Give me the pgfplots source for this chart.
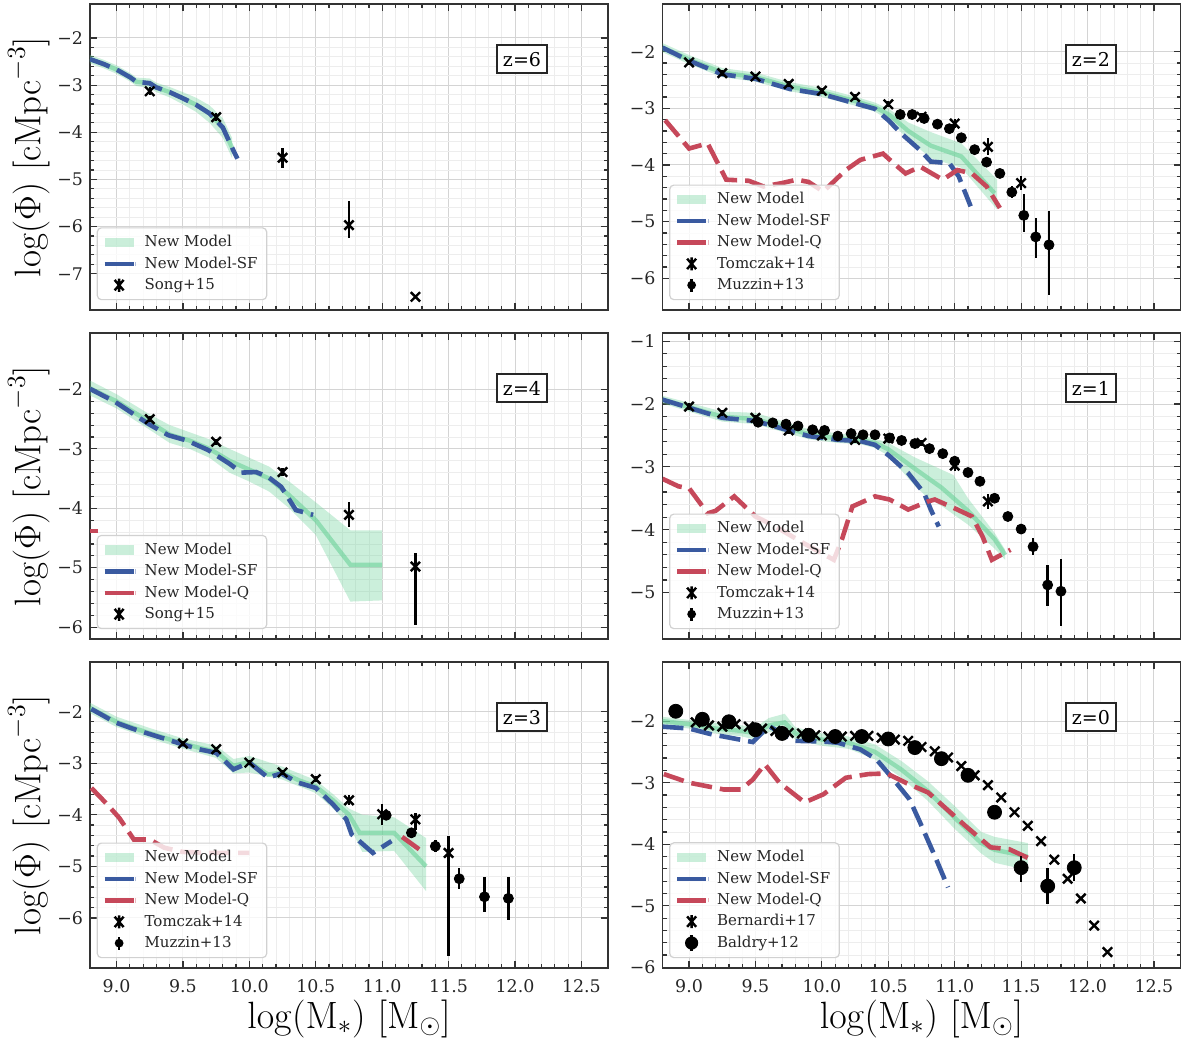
\RequirePackage{fix-cm}
\documentclass[border=0pt]{standalone}
\usepackage[no-math]{fontspec}
\setmainfont{DejaVu Serif}
\usepackage{pgfplots}
\pgfplotsset{compat=1.18}
\definecolor{mint}{RGB}{110,210,155}
\definecolor{sfblue}{RGB}{58,90,160}
\definecolor{qred}{RGB}{198,72,90}

\tikzset{zbox/.style={draw=black!85, line width=0.9pt, fill=white, inner xsep=3pt, inner ysep=3.5pt, font=\fontsize{9.5}{11}\selectfont}}
\pgfplotsset{
  panel/.style={
    scale only axis, width=259pt, height=153pt,
    xmin=8.8, xmax=12.7,
    xtick={9,9.5,10,10.5,11,11.5,12,12.5},
    xticklabels={},
    minor x tick num=4, minor y tick num=4,
    grid=both,
    major grid style={line width=0.5pt, draw=black!17},
    minor grid style={line width=0.4pt, draw=black!7},
    tick align=inside,
    major tick length=3.5pt, minor tick length=2pt,
    every tick/.style={black!80, line width=0.6pt},
    axis line style={black!80, line width=0.9pt},
    tick label style={font=\fontsize{8.7}{10}\selectfont, text=black!85},
    xticklabel style={yshift=-2pt},
    legend cell align=left,
    legend style={at={(0.013,0.032)}, anchor=south west,
      font=\fontsize{7.5}{9}\selectfont, text=black!85, draw=black!18, line width=0.6pt,
      fill=white, fill opacity=0.8, text opacity=1, rounded corners=2pt,
      nodes={inner ysep=1.2pt}, row sep=1.1pt, inner xsep=2.5pt, inner ysep=2.5pt},
  },
  leftcol/.style={ylabel={$\mathrm{log}(\Phi)\ [\mathrm{cMpc}^{-3}]$},
    ylabel style={at={(rel axis cs:-0.118,0.5)}, anchor=center, font=\fontsize{18.5}{20}\selectfont}},
  bottomrow/.style={xticklabels={9.0,9.5,10.0,10.5,11.0,11.5,12.0,12.5},
    xlabel={$\mathrm{log}(\mathrm{M}_*)\ [\mathrm{M}_\odot]$},
    xlabel style={at={(rel axis cs:0.5,-0.165)}, anchor=center, font=\fontsize{19}{21}\selectfont}},
  band/.style={forget plot, fill=mint, fill opacity=0.36, draw=none},
  med/.style={forget plot, mint, draw opacity=0.62, line width=2.2pt},
  sfl/.style={forget plot, sfblue, line width=2.3pt, dash pattern=on 10.5pt off 4pt},
  qql/.style={forget plot, qred, line width=2.3pt, dash pattern=on 10.5pt off 4pt},
  xmk/.style={forget plot, only marks, mark=x, mark size=3.3pt, black, line width=1.2pt,
    error bars/.cd, y dir=both, y explicit, error mark=none, error bar style={line width=1.2pt, black}},
  cmk/.style={forget plot, only marks, mark=*, mark size=2.5pt, black, mark options={fill=black},
    error bars/.cd, y dir=both, y explicit, error mark=none, error bar style={line width=1.2pt, black}},
  bmk/.style={forget plot, only marks, mark=*, mark size=3.5pt, black, mark options={fill=black},
    error bars/.cd, y dir=both, y explicit, error mark=none, error bar style={line width=1.2pt, black}},
  lnm/.style={legend image code/.code={\path[draw=none, fill=none] (0pt,0pt) -- (18pt,0pt); \path[fill=mint, fill opacity=0.36, draw=none, sharp corners] (0pt,-2.3pt) rectangle (14.5pt,2.3pt);}},
  lsf/.style={legend image code/.code={\path[draw=none, fill=none] (0pt,0pt) -- (18pt,0pt); \draw[sfblue, draw opacity=1, line width=2.3pt, sharp corners] (0pt,0pt) -- (14.5pt,0pt); \draw[sfblue!40, draw opacity=1, line width=0.5pt] (15.6pt,-1.1pt) -- (15.6pt,1.1pt);}},
  lq/.style={legend image code/.code={\path[draw=none, fill=none] (0pt,0pt) -- (18pt,0pt); \draw[qred, draw opacity=1, line width=2.3pt, sharp corners] (0pt,0pt) -- (14.5pt,0pt); \draw[qred!40, draw opacity=1, line width=0.5pt] (15.6pt,-1.1pt) -- (15.6pt,1.1pt);}},
  lx/.style={legend image code/.code={\path[draw=none, fill=none] (0pt,0pt) -- (18pt,0pt); \draw[black, draw opacity=1, line width=1.2pt, sharp corners] (5pt,-2.6pt)--(9.5pt,2.6pt) (5pt,2.6pt)--(9.5pt,-2.6pt) (7.25pt,-3.3pt)--(7.25pt,3.3pt);}},
  lc/.style={legend image code/.code={\path[draw=none, fill=none] (0pt,0pt) -- (18pt,0pt); \path[fill=black, fill opacity=1, draw=none] (7.25pt,0pt) circle (2.2pt); \draw[black, draw opacity=1, line width=1.2pt] (7.25pt,-3.3pt)--(7.25pt,3.3pt);}},
  lb/.style={legend image code/.code={\path[draw=none, fill=none] (0pt,0pt) -- (18pt,0pt); \path[fill=black, fill opacity=1, draw=none] (7.25pt,0pt) circle (3.3pt); \draw[black, draw opacity=1, line width=1.2pt] (7.25pt,-4pt)--(7.25pt,4pt);}},
}

\begin{document}
\begin{tikzpicture}
\useasboundingbox (0,0) rectangle (592pt,-520.5pt);

% ---------------- z=6 ----------------
\begin{axis}[panel, leftcol, at={(45pt,-155pt)}, anchor=south west,
  ymin=-7.77, ymax=-1.28, ytick={-7,-6,-5,-4,-3,-2}, yticklabels={−7,−6,−5,−4,−3,−2}]
\addplot[band] coordinates {(8.8,-2.36) (8.9,-2.46) (9.0,-2.58) (9.1,-2.74) (9.15,-2.84) (9.25,-2.86) (9.3,-2.95) (9.4,-3.04) (9.5,-3.15) (9.6,-3.27) (9.7,-3.43) (9.8,-3.70) (9.87,-4.12)
 (9.87,-4.55) (9.8,-4.12) (9.7,-3.80) (9.6,-3.57) (9.5,-3.41) (9.4,-3.26) (9.3,-3.15) (9.25,-3.06) (9.15,-3.02) (9.1,-2.92) (9.0,-2.76) (8.9,-2.64) (8.8,-2.54)};
\addplot[med] coordinates {(8.8,-2.45) (8.9,-2.55) (9.0,-2.67) (9.1,-2.83) (9.15,-2.93) (9.25,-2.96) (9.3,-3.05) (9.4,-3.15) (9.5,-3.28) (9.6,-3.42) (9.7,-3.60) (9.8,-3.90) (9.87,-4.33)};
\addplot[sfl] coordinates {(8.8,-2.45) (8.9,-2.55) (9.0,-2.67) (9.1,-2.83) (9.15,-2.93) (9.25,-2.96) (9.3,-3.05) (9.4,-3.15) (9.5,-3.28) (9.6,-3.42) (9.7,-3.60) (9.8,-3.90) (9.87,-4.33) (9.91,-4.56)};
\addplot[xmk] table[x index=0, y index=1, y error plus index=2, y error minus index=3] {
9.25 -3.13 0.08 0.08
9.75 -3.68 0.08 0.08
10.25 -4.54 0.20 0.22
10.75 -5.97 0.52 0.28
11.25 -7.49 0 0
};
\addlegendimage{lnm}\addlegendentry{New Model}
\addlegendimage{lsf}\addlegendentry{New Model-SF}
\addlegendimage{lx}\addlegendentry{Song+15}
\node[zbox] at (rel axis cs:0.834,0.82) {z=6};
\end{axis}

% ---------------- z=2 ----------------
\begin{axis}[panel, at={(331.25pt,-155pt)}, anchor=south west,
  ymin=-6.56, ymax=-1.16, ytick={-6,-5,-4,-3,-2}, yticklabels={−6,−5,−4,−3,−2}]
\addplot[band] coordinates {(8.8,-1.85) (9.0,-2.06) (9.25,-2.29) (9.5,-2.37) (9.76,-2.54) (10.0,-2.64) (10.26,-2.80) (10.4,-2.90) (10.51,-3.02) (10.65,-3.25) (10.82,-3.42) (11.05,-3.62) (11.32,-4.26)
 (11.32,-4.79) (11.05,-4.05) (10.82,-3.88) (10.65,-3.55) (10.51,-3.22) (10.4,-3.06) (10.26,-2.96) (10.0,-2.80) (9.76,-2.70) (9.5,-2.53) (9.25,-2.45) (9.0,-2.22) (8.8,-2.01)};
\addplot[med] coordinates {(8.8,-1.93) (9.0,-2.14) (9.25,-2.37) (9.5,-2.45) (9.76,-2.62) (10.0,-2.72) (10.26,-2.88) (10.40,-2.98) (10.51,-3.12) (10.65,-3.40) (10.82,-3.66) (11.05,-3.85) (11.30,-4.50)};
\addplot[sfl] coordinates {(8.8,-1.93) (9.0,-2.16) (9.25,-2.40) (9.5,-2.48) (9.76,-2.66) (10.0,-2.75) (10.26,-2.92) (10.40,-3.01) (10.50,-3.21) (10.60,-3.45) (10.74,-3.74) (10.82,-3.94) (10.96,-3.97) (11.03,-4.20) (11.12,-4.73)};
\addplot[qql] coordinates {(8.82,-3.21) (9.0,-3.71) (9.14,-3.62) (9.28,-4.26) (9.45,-4.28) (9.56,-4.38) (9.70,-4.32) (9.81,-4.26) (9.90,-4.30) (10.01,-4.47) (10.18,-4.09) (10.29,-3.91) (10.46,-3.80) (10.54,-3.97) (10.63,-4.15) (10.74,-4.03) (10.91,-4.26) (11.02,-4.09) (11.13,-4.15) (11.24,-4.38) (11.34,-4.76)};
\addplot[xmk] table[x index=0, y index=1, y error plus index=2, y error minus index=3] {
9.0 -2.19 0.05 0.05
9.25 -2.38 0.05 0.05
9.5 -2.44 0.05 0.05
9.75 -2.57 0.05 0.05
10.0 -2.69 0.05 0.05
10.25 -2.80 0.05 0.05
10.5 -2.93 0.05 0.05
10.75 -3.15 0.06 0.06
11.0 -3.27 0.08 0.08
11.25 -3.68 0.15 0.15
11.5 -4.32 0.12 0.12
};
\addplot[cmk] table[x index=0, y index=1, y error plus index=2, y error minus index=3] {
10.59 -3.11 0.04 0.04
10.68 -3.11 0.04 0.04
10.77 -3.18 0.04 0.04
10.87 -3.28 0.04 0.04
10.96 -3.36 0.04 0.04
11.05 -3.52 0.05 0.05
11.15 -3.73 0.05 0.05
11.24 -3.95 0.06 0.06
11.34 -4.15 0.08 0.08
11.43 -4.48 0.10 0.10
11.52 -4.89 0.37 0.29
11.61 -5.27 0.34 0.38
11.71 -5.41 0.59 0.88
};
\addlegendimage{lnm}\addlegendentry{New Model}
\addlegendimage{lsf}\addlegendentry{New Model-SF}
\addlegendimage{lq}\addlegendentry{New Model-Q}
\addlegendimage{lx}\addlegendentry{Tomczak+14}
\addlegendimage{lc}\addlegendentry{Muzzin+13}
\node[zbox] at (rel axis cs:0.827,0.82) {z=2};
\end{axis}

% ---------------- z=4 ----------------
\begin{axis}[panel, leftcol, at={(45pt,-319.5pt)}, anchor=south west,
  ymin=-6.2, ymax=-1.05, ytick={-6,-5,-4,-3,-2}, yticklabels={−6,−5,−4,−3,−2}]
\addplot[band] coordinates {(8.8,-1.85) (9.0,-2.08) (9.25,-2.42) (9.4,-2.60) (9.55,-2.72) (9.7,-2.84) (9.85,-3.00) (10.0,-3.15) (10.15,-3.30) (10.3,-3.55) (10.5,-3.90) (10.76,-4.37) (11.0,-4.37)
 (11.0,-5.55) (10.76,-5.57) (10.5,-4.45) (10.3,-4.00) (10.15,-3.72) (10.0,-3.55) (9.85,-3.40) (9.7,-3.15) (9.55,-3.00) (9.4,-2.90) (9.25,-2.68) (9.0,-2.32) (8.8,-2.10)};
\addplot[med] coordinates {(8.8,-1.98) (9.0,-2.20) (9.25,-2.55) (9.4,-2.76) (9.55,-2.86) (9.7,-3.00) (9.85,-3.20) (10.0,-3.35) (10.15,-3.50) (10.3,-3.78) (10.5,-4.20) (10.76,-4.95) (11.0,-4.95)};
\addplot[sfl] coordinates {(8.8,-1.99) (8.99,-2.21) (9.24,-2.58) (9.39,-2.77) (9.53,-2.86) (9.69,-3.02) (9.85,-3.25) (9.94,-3.40) (10.05,-3.39) (10.14,-3.47) (10.24,-3.64) (10.35,-4.03) (10.48,-4.11)};
\addplot[forget plot, qred, line width=2.3pt] coordinates {(8.8,-4.38) (8.86,-4.38)};
\addplot[xmk] table[x index=0, y index=1, y error plus index=2, y error minus index=3] {
9.25 -2.50 0.05 0.05
9.75 -2.88 0.05 0.05
10.25 -3.39 0.06 0.06
10.75 -4.11 0.22 0.20
11.25 -4.98 0.22 0.98
};
\addlegendimage{lnm}\addlegendentry{New Model}
\addlegendimage{lsf}\addlegendentry{New Model-SF}
\addlegendimage{lq}\addlegendentry{New Model-Q}
\addlegendimage{lx}\addlegendentry{Song+15}
\node[zbox] at (rel axis cs:0.834,0.82) {z=4};
\end{axis}

% ---------------- z=1 ----------------
\begin{axis}[panel, at={(331.25pt,-319.5pt)}, anchor=south west,
  ymin=-5.74, ymax=-0.87, ytick={-5,-4,-3,-2,-1}, yticklabels={−5,−4,−3,−2,−1}]
\addplot[band] coordinates {(8.8,-1.87) (9.0,-1.98) (9.25,-2.12) (9.5,-2.14) (9.9,-2.40) (10.12,-2.47) (10.29,-2.50) (10.4,-2.55) (10.5,-2.62) (10.7,-2.85) (10.99,-3.13) (11.1,-3.50) (11.3,-4.05) (11.38,-4.32)
 (11.38,-4.48) (11.3,-4.30) (11.1,-3.92) (10.9,-3.62) (10.8,-3.50) (10.7,-3.30) (10.5,-2.82) (10.4,-2.70) (10.29,-2.64) (10.12,-2.62) (9.9,-2.56) (9.5,-2.32) (9.25,-2.28) (9.0,-2.12) (8.8,-1.99)};
\addplot[med] coordinates {(8.8,-1.93) (9.0,-2.05) (9.25,-2.20) (9.5,-2.24) (9.9,-2.48) (10.12,-2.55) (10.29,-2.57) (10.40,-2.62) (10.5,-2.72) (10.7,-3.03) (10.9,-3.33) (11.1,-3.70) (11.3,-4.15) (11.38,-4.40)};
\addplot[sfl] coordinates {(8.8,-1.93) (9.0,-2.06) (9.25,-2.22) (9.5,-2.27) (9.9,-2.51) (10.12,-2.57) (10.29,-2.59) (10.40,-2.65) (10.51,-2.83) (10.65,-3.10) (10.77,-3.42) (10.82,-3.68) (10.88,-3.95)};
\addplot[qql] coordinates {(8.80,-3.19) (8.92,-3.31) (9.0,-3.34) (9.14,-3.74) (9.20,-3.70) (9.34,-3.47) (9.5,-3.79) (9.65,-3.95) (9.85,-4.20) (10.09,-4.48) (10.15,-4.16) (10.23,-3.63) (10.40,-3.47) (10.51,-3.52) (10.65,-3.68) (10.80,-3.55) (10.85,-3.52) (11.02,-3.68) (11.13,-3.79) (11.21,-4.11) (11.28,-4.48) (11.42,-4.32)};
\addplot[xmk] table[x index=0, y index=1, y error plus index=2, y error minus index=3] {
9.0 -2.04 0.05 0.05
9.25 -2.14 0.05 0.05
9.5 -2.22 0.05 0.05
9.75 -2.42 0.05 0.05
10.0 -2.50 0.05 0.05
10.25 -2.57 0.05 0.05
10.5 -2.55 0.05 0.05
10.75 -2.62 0.05 0.05
11.0 -2.98 0.08 0.08
11.25 -3.55 0.12 0.12
};
\addplot[cmk] table[x index=0, y index=1, y error plus index=2, y error minus index=3] {
9.52 -2.29 0.03 0.03
9.63 -2.30 0.03 0.03
9.73 -2.32 0.03 0.03
9.82 -2.35 0.03 0.03
9.93 -2.41 0.03 0.03
10.02 -2.42 0.03 0.03
10.12 -2.51 0.03 0.03
10.22 -2.47 0.03 0.03
10.31 -2.49 0.03 0.03
10.40 -2.49 0.03 0.03
10.51 -2.54 0.03 0.03
10.60 -2.58 0.03 0.03
10.70 -2.63 0.03 0.03
10.81 -2.71 0.03 0.03
10.91 -2.79 0.03 0.03
11.00 -2.91 0.04 0.04
11.10 -3.09 0.04 0.04
11.19 -3.23 0.04 0.04
11.30 -3.50 0.05 0.05
11.40 -3.79 0.06 0.06
11.50 -3.99 0.08 0.08
11.59 -4.27 0.13 0.13
11.70 -4.88 0.32 0.33
11.80 -4.98 0.51 0.55
};
\addlegendimage{lnm}\addlegendentry{New Model}
\addlegendimage{lsf}\addlegendentry{New Model-SF}
\addlegendimage{lq}\addlegendentry{New Model-Q}
\addlegendimage{lx}\addlegendentry{Tomczak+14}
\addlegendimage{lc}\addlegendentry{Muzzin+13}
\node[zbox] at (rel axis cs:0.827,0.82) {z=1};
\end{axis}

% ---------------- z=3 ----------------
\begin{axis}[panel, leftcol, bottomrow, at={(45pt,-484pt)}, anchor=south west,
  ymin=-6.97, ymax=-1.04, ytick={-6,-5,-4,-3,-2}, yticklabels={−6,−5,−4,−3,−2}]
\addplot[band] coordinates {(8.8,-1.83) (9.0,-2.10) (9.25,-2.32) (9.5,-2.52) (9.75,-2.66) (9.88,-2.92) (10.0,-2.86) (10.25,-3.07) (10.5,-3.33) (10.63,-3.60) (10.75,-3.88) (10.85,-4.00) (11.09,-4.05) (11.33,-4.45)
 (11.33,-5.48) (11.09,-4.70) (10.85,-4.72) (10.75,-4.20) (10.63,-3.88) (10.5,-3.58) (10.25,-3.32) (10.0,-3.18) (9.88,-3.20) (9.75,-2.90) (9.5,-2.72) (9.25,-2.52) (9.0,-2.30) (8.8,-2.03)};
\addplot[med] coordinates {(8.8,-1.93) (9.0,-2.20) (9.13,-2.32) (9.25,-2.42) (9.5,-2.62) (9.62,-2.70) (9.75,-2.78) (9.88,-3.05) (10.0,-2.98) (10.14,-3.22) (10.25,-3.18) (10.37,-3.33) (10.5,-3.45) (10.63,-3.72) (10.75,-4.00) (10.83,-4.35) (11.09,-4.35) (11.33,-5.00)};
\addplot[sfl] coordinates {(8.81,-1.95) (8.99,-2.21) (9.13,-2.34) (9.49,-2.63) (9.62,-2.73) (9.75,-2.80) (9.88,-3.12) (10.0,-2.99) (10.14,-3.28) (10.24,-3.20) (10.37,-3.38) (10.50,-3.48) (10.63,-3.80) (10.73,-4.09) (10.77,-4.38) (10.93,-4.74) (11.07,-4.51)};
\addplot[qql] coordinates {(8.81,-3.48) (8.93,-3.80) (9.02,-4.06) (9.13,-4.48) (9.25,-4.48) (9.36,-4.64) (9.5,-4.72) (9.7,-4.74) (10.0,-4.74)};
\addplot[qql] coordinates {(11.15,-4.43) (11.30,-4.71)};
\addplot[xmk] table[x index=0, y index=1, y error plus index=2, y error minus index=3] {
9.5 -2.62 0.05 0.05
9.75 -2.73 0.05 0.05
10.0 -2.99 0.05 0.05
10.25 -3.18 0.05 0.05
10.5 -3.31 0.06 0.06
10.75 -3.72 0.10 0.10
11.0 -3.99 0.20 0.20
11.25 -4.09 0.12 0.20
11.5 -4.74 0.33 2.00
};
\addplot[cmk] table[x index=0, y index=1, y error plus index=2, y error minus index=3] {
11.03 -4.01 0.08 0.08
11.22 -4.35 0.10 0.10
11.40 -4.61 0.12 0.12
11.58 -5.24 0.20 0.20
11.77 -5.59 0.38 0.29
11.95 -5.62 0.41 0.41
};
\addlegendimage{lnm}\addlegendentry{New Model}
\addlegendimage{lsf}\addlegendentry{New Model-SF}
\addlegendimage{lq}\addlegendentry{New Model-Q}
\addlegendimage{lx}\addlegendentry{Tomczak+14}
\addlegendimage{lc}\addlegendentry{Muzzin+13}
\node[zbox] at (rel axis cs:0.834,0.82) {z=3};
\end{axis}

% ---------------- z=0 ----------------
\begin{axis}[panel, bottomrow, at={(331.25pt,-484pt)}, anchor=south west,
  ymin=-6.01, ymax=-1.04, ytick={-6,-5,-4,-3,-2}, yticklabels={−6,−5,−4,−3,−2}]
\addplot[band] coordinates {(8.8,-1.93) (9.0,-1.98) (9.2,-2.03) (9.4,-2.07) (9.5,-2.10) (9.6,-1.95) (9.72,-1.88) (9.8,-2.10) (10.0,-2.20) (10.2,-2.25) (10.4,-2.38) (10.6,-2.65) (10.8,-2.98) (11.0,-3.38) (11.2,-3.80) (11.3,-3.88) (11.55,-3.98)
 (11.55,-4.42) (11.3,-4.30) (11.2,-4.15) (11.0,-3.75) (10.8,-3.30) (10.6,-2.92) (10.4,-2.62) (10.2,-2.45) (10.0,-2.40) (9.8,-2.30) (9.72,-2.15) (9.6,-2.18) (9.5,-2.30) (9.4,-2.25) (9.2,-2.20) (9.0,-2.12) (8.8,-2.07)};
\addplot[med] coordinates {(8.8,-2.00) (9.0,-2.05) (9.2,-2.12) (9.4,-2.16) (9.5,-2.20) (9.6,-2.07) (9.72,-2.02) (9.8,-2.20) (10.0,-2.30) (10.2,-2.35) (10.4,-2.50) (10.6,-2.79) (10.8,-3.14) (11.0,-3.57) (11.2,-3.98) (11.3,-4.09) (11.55,-4.20)};
\addplot[sfl] coordinates {(8.8,-2.09) (9.0,-2.12) (9.18,-2.22) (9.26,-2.25) (9.48,-2.34) (9.6,-2.08) (9.7,-2.20) (9.8,-2.32) (10.0,-2.33) (10.12,-2.35) (10.29,-2.46) (10.41,-2.62) (10.54,-2.95) (10.66,-3.27) (10.74,-3.65) (10.85,-4.19) (10.95,-4.70)};
\addplot[qql] coordinates {(8.81,-2.86) (9.0,-3.00) (9.26,-3.11) (9.39,-3.11) (9.48,-2.95) (9.57,-2.70) (9.68,-3.00) (9.87,-3.32) (10.01,-3.19) (10.18,-2.92) (10.35,-2.86) (10.49,-2.85) (10.63,-3.00) (10.80,-3.16) (10.94,-3.43) (11.08,-3.70) (11.27,-4.05) (11.41,-4.08) (11.55,-4.22)};
\addplot[xmk] table[x index=0, y index=1, y error plus index=2, y error minus index=3] {
9.05 -2.02 0 0
9.15 -2.07 0 0
9.25 -2.09 0 0
9.35 -2.05 0 0
9.45 -2.09 0 0
9.55 -2.12 0 0
9.65 -2.16 0 0
9.75 -2.19 0 0
9.85 -2.20 0 0
9.95 -2.23 0 0
10.05 -2.25 0 0
10.15 -2.25 0 0
10.25 -2.24 0 0
10.35 -2.24 0 0
10.45 -2.27 0 0
10.55 -2.30 0 0
10.65 -2.32 0 0
10.75 -2.42 0 0
10.85 -2.49 0 0
10.95 -2.59 0 0
11.05 -2.73 0 0
11.15 -2.88 0 0
11.25 -3.04 0 0
11.35 -3.24 0 0
11.45 -3.48 0 0
11.55 -3.70 0 0
11.65 -3.95 0 0
11.75 -4.25 0 0
11.85 -4.56 0 0
11.95 -4.88 0 0
12.05 -5.32 0 0
12.15 -5.75 0 0
};
\addplot[bmk] table[x index=0, y index=1, y error plus index=2, y error minus index=3] {
8.9 -1.84 0.03 0.03
9.1 -1.97 0.03 0.03
9.3 -2.01 0.03 0.03
9.5 -2.14 0.03 0.03
9.7 -2.20 0.03 0.03
9.9 -2.23 0.03 0.03
10.1 -2.25 0.03 0.03
10.3 -2.25 0.03 0.03
10.5 -2.29 0.03 0.03
10.7 -2.43 0.03 0.03
10.9 -2.61 0.03 0.03
11.1 -2.88 0.04 0.04
11.3 -3.48 0.05 0.05
11.5 -4.38 0.19 0.24
11.7 -4.68 0.30 0.29
11.9 -4.38 0.23 0.21
};
\addlegendimage{lnm}\addlegendentry{New Model}
\addlegendimage{lsf}\addlegendentry{New Model-SF}
\addlegendimage{lq}\addlegendentry{New Model-Q}
\addlegendimage{lx}\addlegendentry{Bernardi+17}
\addlegendimage{lb}\addlegendentry{Baldry+12}
\node[zbox] at (rel axis cs:0.827,0.82) {z=0};
\end{axis}
\end{tikzpicture}
\end{document}
